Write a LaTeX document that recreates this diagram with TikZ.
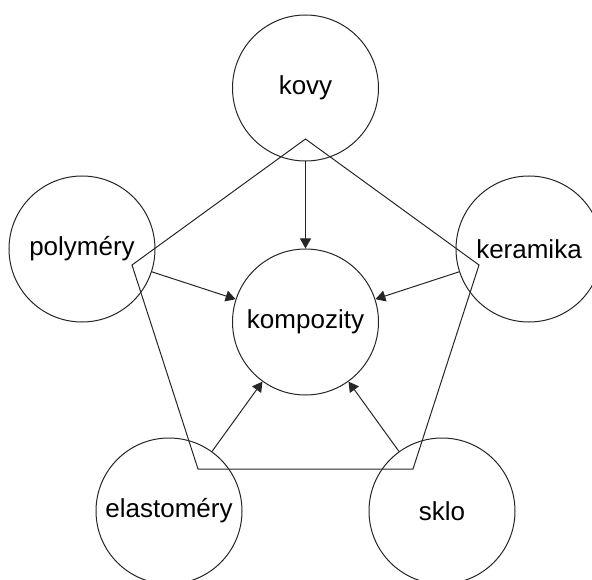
\documentclass[tikz,border=0pt]{standalone}
\usepackage{fontspec}
\setmainfont{Liberation Sans}
\usetikzlibrary{arrows.meta}
\begin{document}
\begin{tikzpicture}[x=1pt,y=-1pt,
  ball/.style={circle,draw=black!85,line width=1pt,minimum size=146pt,inner sep=0pt,
    font=\fontsize{26}{30}\selectfont},
  link/.style={line width=1pt,draw=black!85,-{Triangle[length=10pt,width=11pt]}},
  frame/.style={line width=1pt,draw=black!85}]
\useasboundingbox (0,0) rectangle (592,580);
\node[ball] (kovy) at (305.5,88) {kovy};
\node[ball] (poly) at (82,249) {polyméry};
\node[ball] (ker) at (529,249) {keramika};
\node[ball] (komp) at (305.5,322) {kompozity};
\node[ball] (elast) at (169,511) {elastoméry};
\node[ball] (sklo) at (442,511) {sklo};
\draw[frame] (305.5,139) -- (479,265) -- (413,469) -- (198,469) -- (132,265) -- cycle;
\draw[link] (kovy) -- (komp);
\draw[link] (poly) -- (komp);
\draw[link] (ker) -- (komp);
\draw[link] (elast) -- (komp);
\draw[link] (sklo) -- (komp);
\end{tikzpicture}
\end{document}
